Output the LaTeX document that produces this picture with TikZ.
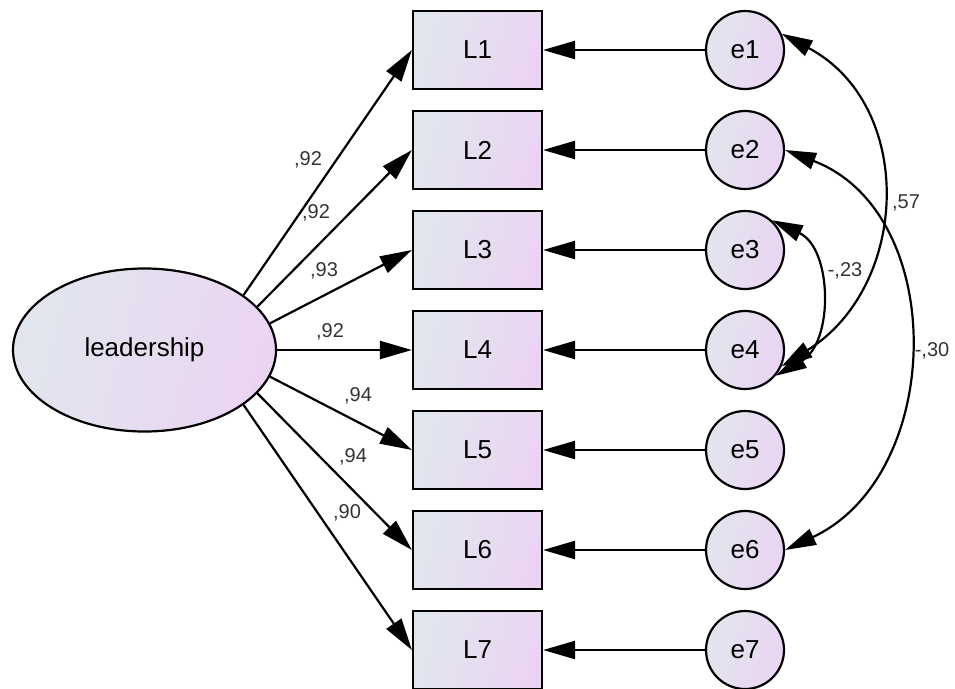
\documentclass[tikz,border=0pt]{standalone}
\usepackage{fontspec}
\setmainfont{Liberation Sans}
\usetikzlibrary{arrows.meta,shapes.geometric}
\definecolor{shadeL}{HTML}{E1E6EE}
\definecolor{shadeR}{HTML}{EBD4F2}
\definecolor{labgray}{HTML}{333333}
\begin{document}
\begin{tikzpicture}[x=1pt,y=1pt,
  every node/.style={font=\fontsize{26}{30}\selectfont},
  filled/.style={draw=black, line width=2.2pt, left color=shadeL, right color=shadeR, shading angle=75},
  obs/.style={filled, rectangle, minimum width=129pt, minimum height=78pt, inner sep=0pt},
  err/.style={filled, circle, minimum size=78pt, inner sep=0pt},
  lat/.style={filled, ellipse, minimum width=263pt, minimum height=163pt, inner sep=0pt},
  path/.style={line width=2.2pt, -{Triangle[length=32pt,width=18pt]}},
  cov/.style={line width=2.2pt, {Triangle[length=31pt,width=17pt]}-{Triangle[length=31pt,width=17pt]}},
  coef/.style={font=\fontsize{20}{22}\selectfont, text=labgray, inner sep=0pt}
]
\useasboundingbox (0,0) rectangle (955,-688);

% latent factor
\node[lat] (lead) at (144.5,-350) {leadership};

% observed indicators and their error terms
\foreach \k in {1,...,7}{
  \node[obs] (L\k) at (477.5,{-50-100*(\k-1)}) {L\k};
  \node[err] (e\k) at (745,{-50-100*(\k-1)}) {e\k};
  \draw[path] (e\k) -- (L\k);
}

% factor loadings
\draw[path] (lead.29)  -- (L1.west);
\draw[path] (lead.21.6) -- (L2.west);
\draw[path] (lead.12)  -- (L3.west);
\draw[path] (lead.0)   -- (L4.west);
\draw[path] (lead.-12) -- (L5.west);
\draw[path] (lead.-21.6) -- (L6.west);
\draw[path] (lead.-29) -- (L7.west);

\node[coef] (c1) at (308,-160) {,92};
\node[coef] (c2) at (316,-213) {,92};
\node[coef] (c3) at (324,-271) {,93};
\node[coef] (c4) at (330,-332) {,92};
\node[coef] (c5) at (358,-396) {,94};
\node[coef] (c6) at (353,-457) {,94};
\node[coef] (c7) at (347,-513) {,90};

% error covariances
\draw[cov] (e1.24) to[out=-28, in=32, looseness=1.17] (e4.-24);
\draw[cov] (e3.48) to[out=-25, in=30, looseness=1.1] (e4.-40);
\draw[cov] (e2.0) to[out=-21, in=25, looseness=1.13] (e6.0);

\node[coef] (r14) at (906,-203) {,57};
\node[coef] (r34) at (845,-271) {-,23};
\node[coef] (r26) at (932,-351) {-,30};
\end{tikzpicture}
\end{document}
